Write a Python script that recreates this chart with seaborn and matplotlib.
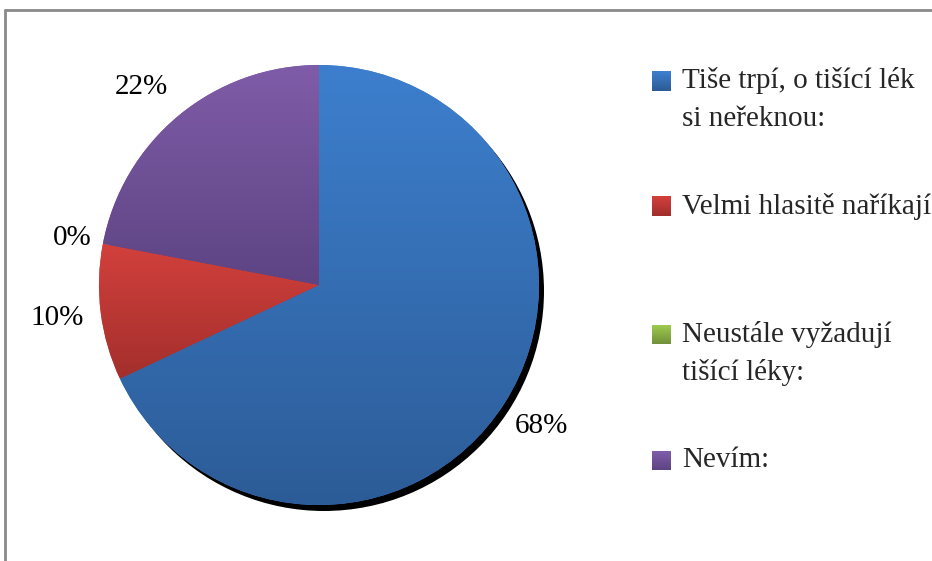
import numpy as np
import matplotlib
matplotlib.use("Agg")
import matplotlib.pyplot as plt
from matplotlib.patches import Circle, Rectangle
from matplotlib.lines import Line2D
from matplotlib.colors import LinearSegmentedColormap
import seaborn as sns

# Survey answers and their shares (percent)
categories = [
    "Tiše trpí, o tišící lék\nsi neřeknou:",
    "Velmi hlasitě naříkají:",
    "Neustále vyžadují\ntišící léky:",
    "Nevím:",
]
shares = [68, 10, 0, 22]

# light (top) / dark (bottom) shade for each slice
top_colors = ["#3d7fce", "#d2403c", "#9cc94d", "#7f5ca8"]
bottom_colors = ["#2c5c97", "#a32f2c", "#72913a", "#5d4483"]

sns.set_theme(style="white")
plt.rcParams["font.family"] = ["Liberation Serif", "DejaVu Serif"]

W, H = 932, 561
FS = 21
fig = plt.figure(figsize=(W / 100, H / 100), dpi=100)
fig.patch.set_facecolor("white")
ax = fig.add_axes([0, 0, 1, 1])

cx, cy, R = 319, H - 285, 220

# drop shadow behind the pie
ax.add_patch(Circle((cx + 5, cy - 6), R, facecolor="black", edgecolor="none", zorder=0))

wedges, texts, autotexts = ax.pie(
    shares,
    colors=top_colors,
    startangle=90,
    counterclock=False,
    center=(cx, cy),
    radius=R,
    autopct=lambda p: f"{p:.0f}%",
    pctdistance=1.2,
    wedgeprops=dict(edgecolor="none", linewidth=0, zorder=1),
    textprops=dict(fontsize=FS, color="black"),
    frame=True,
)

# fine-tune label placement (angle in degrees, distance in radii)
label_spots = {2: (169.2, 1.14), 3: (132.0, 1.21)}
for i, (ang, dist) in label_spots.items():
    a = np.deg2rad(ang)
    autotexts[i].set_position((cx + dist * R * np.cos(a), cy + dist * R * np.sin(a)))

# vertical shading inside every slice
grad = np.linspace(0, 1, 256).reshape(-1, 1)
for w, v, ct, cb in zip(wedges, shares, top_colors, bottom_colors):
    if v == 0:
        continue
    verts = w.get_patch_transform().transform(w.get_path().vertices)
    x0, y0 = verts.min(axis=0)
    x1, y1 = verts.max(axis=0)
    cmap = LinearSegmentedColormap.from_list("s", [ct, cb])
    im = ax.imshow(grad, cmap=cmap, extent=(x0, x1, y0, y1), origin="upper",
                   aspect="auto", zorder=2, interpolation="bilinear")
    im.set_clip_path(w)

ax.set_xlim(0, W)
ax.set_ylim(0, H)
ax.set_aspect("equal")
ax.axis("off")

# legend drawn as colour squares with wrapped labels
legend_y = [81, 206, 334, 460]
sq = 19
for lab, ct, cb, yc in zip(categories, top_colors, bottom_colors, legend_y):
    c_top = np.array(matplotlib.colors.to_rgb(ct))
    c_bot = np.array(matplotlib.colors.to_rgb(cb))
    for k in range(sq):
        t = k / (sq - 1)
        c = c_top * (1 - t) + c_bot * t
        fig.add_artist(Rectangle((652 / W, (H - (yc - sq / 2 + k + 1)) / H), sq / W, 1 / H,
                                 transform=fig.transFigure, facecolor=c, edgecolor="none"))
    for i, line in enumerate(lab.split("\n")):
        fig.text(682 / W, 1 - (yc + i * 38) / H, line, fontsize=FS, va="center", ha="left")

# chart frame
frame_kw = dict(transform=fig.transFigure, color="#8a8a8a", linewidth=2)
fig.add_artist(Line2D([5 / W, 1.01], [1 - 10 / H, 1 - 10 / H], **frame_kw))
fig.add_artist(Line2D([5 / W, 5 / W], [1 - 10 / H, -0.01], **frame_kw))

fig.savefig("out.png", dpi=100, facecolor="white")
